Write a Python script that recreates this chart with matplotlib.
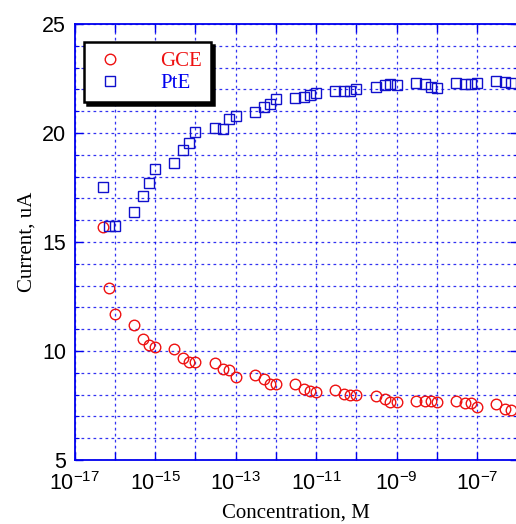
import matplotlib
matplotlib.use("Agg")
import matplotlib.pyplot as plt
from matplotlib.ticker import FixedLocator, MultipleLocator, FuncFormatter

conc = [5e-17, 7e-17, 1e-16, 3e-16, 5e-16, 7e-16, 1e-15, 3e-15, 5e-15, 7e-15,
        1e-14, 3e-14, 5e-14, 7e-14, 1e-13, 3e-13, 5e-13, 7e-13, 1e-12, 3e-12,
        5e-12, 7e-12, 1e-11, 3e-11, 5e-11, 7e-11, 1e-10, 3e-10, 5e-10, 7e-10,
        1e-9, 3e-9, 5e-9, 7e-9, 1e-8, 3e-8, 5e-8, 7e-8, 1e-7, 3e-7, 5e-7, 7e-7]
gce = [15.70, 12.90, 11.71, 11.18, 10.56, 10.28, 10.17, 10.10, 9.69, 9.51,
       9.48, 9.46, 9.17, 9.11, 8.82, 8.90, 8.70, 8.49, 8.47, 8.49,
       8.26, 8.17, 8.13, 8.20, 8.04, 7.97, 7.97, 7.95, 7.80, 7.67,
       7.67, 7.72, 7.69, 7.69, 7.67, 7.72, 7.61, 7.61, 7.42, 7.57, 7.34, 7.29]
pte = [17.54, 15.75, 15.75, 16.39, 17.10, 17.71, 18.33, 18.61, 19.23, 19.54,
       20.03, 20.23, 20.20, 20.64, 20.78, 20.95, 21.21, 21.33, 21.55, 21.59,
       21.64, 21.73, 21.82, 21.94, 21.91, 21.94, 22.03, 22.12, 22.22, 22.25,
       22.19, 22.28, 22.25, 22.10, 22.05, 22.31, 22.25, 22.25, 22.31, 22.37, 22.33, 22.28]
series_names = ["GCE", "PtE"]
x_ticks = [1e-17, 1e-16, 1e-15, 1e-14, 1e-13, 1e-12, 1e-11, 1e-10, 1e-9, 1e-8, 1e-7, 1e-6]
x_labeled = [-17, -15, -13, -11, -9, -7]
y_ticks = [5, 10, 15, 20, 25]

plt.rcParams["mathtext.fontset"] = "custom"
plt.rcParams["mathtext.rm"] = "Liberation Sans"

W, H = 516, 524
fig = plt.figure(figsize=(W / 100, H / 100), dpi=100)
left, right, bottom, top = 74.5 / W, 517.5 / W, 1 - 460 / H, 1 - 24 / H
ax = fig.add_axes([left, bottom, right - left, top - bottom])

blue = "#0000ee"
red = "#ee1111"

ax.plot(conc, gce, linestyle="none", marker="o", ms=7.6, mfc="none", mec=red,
        mew=1.0, label=series_names[0], clip_on=True)
ax.plot(conc, pte, linestyle="none", marker="s", ms=7.4, mfc="none", mec="#1010cc",
        mew=1.0, label=series_names[1], clip_on=True)

ax.set_xscale("log")
ax.set_xlim(1e-17, 1e-6)
ax.set_ylim(5, 25)

ax.xaxis.set_major_locator(FixedLocator(x_ticks))
ax.xaxis.set_minor_locator(FixedLocator([]))

def xfmt(v, pos):
    import math
    e = int(round(math.log10(v)))
    if e in x_labeled:
        return r"$\mathregular{10^{%d}}$" % e
    return ""

ax.xaxis.set_major_formatter(FuncFormatter(xfmt))
ax.yaxis.set_major_locator(FixedLocator(y_ticks))
ax.yaxis.set_minor_locator(MultipleLocator(1))

grid_kw = dict(color=blue, linestyle=(0, (2.2, 2.6)), linewidth=0.9, alpha=0.8)
ax.grid(True, which="major", axis="x", **grid_kw)
ax.grid(True, which="both", axis="y", **grid_kw)
ax.set_axisbelow(True)

for s in ax.spines.values():
    s.set_color(blue)
    s.set_linewidth(1.3)

ax.tick_params(axis="both", which="major", direction="in", color=blue, length=6,
               width=1.0, top=True, right=True, labelsize=15.5)
ax.tick_params(axis="x", which="major", pad=9)
ax.tick_params(axis="y", which="major", pad=6)
ax.tick_params(axis="both", which="minor", direction="in", color=blue, length=3,
               width=0.8, top=True, right=True)
for lab in ax.get_xticklabels() + ax.get_yticklabels():
    lab.set_fontfamily("Liberation Sans")

ax.set_xlabel("Concentration, M", fontfamily="Liberation Serif", fontsize=15, labelpad=6)
ax.set_ylabel("Current, uA", fontfamily="Liberation Serif", fontsize=15, labelpad=4)

leg = ax.legend(loc="upper left", bbox_to_anchor=(0.022, 0.958), frameon=True,
                fancybox=False, edgecolor="black", framealpha=1,
                shadow={"color": "black", "alpha": 1},
                prop={"family": "Liberation Serif", "size": 15},
                handletextpad=1.6, borderpad=0.45, labelspacing=0.1,
                handlelength=1.6, borderaxespad=0)
leg.get_frame().set_linewidth(1.8)
for t, c in zip(leg.get_texts(), [red, blue]):
    t.set_color(c)

fig.savefig("out.png", dpi=100)
